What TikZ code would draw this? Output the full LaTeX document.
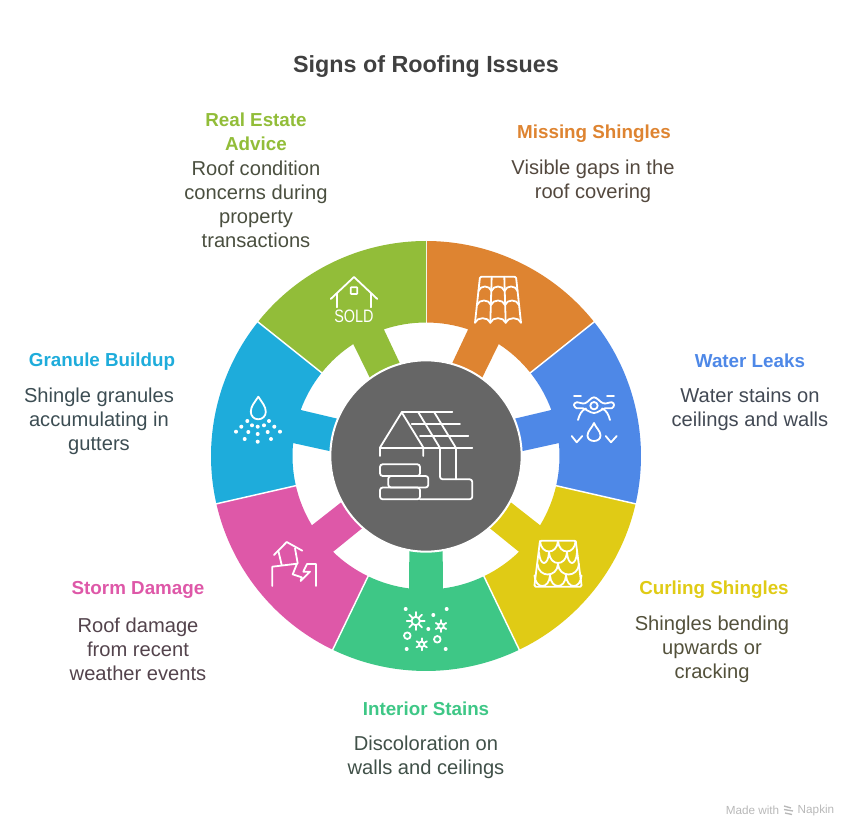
\documentclass[tikz,border=0pt]{standalone}
\usepackage{fontspec}
\usetikzlibrary{calc}
\setmainfont{Liberation Sans}
\definecolor{orangeC}{HTML}{DE8431}
\definecolor{blueC}{HTML}{4E88E7}
\definecolor{yellowC}{HTML}{E0CB15}
\definecolor{greenC}{HTML}{3EC786}
\definecolor{pinkC}{HTML}{DE58A8}
\definecolor{cyanC}{HTML}{1EACDB}
\definecolor{limeC}{HTML}{92BD39}
\definecolor{hubC}{HTML}{666666}
\definecolor{textC}{HTML}{404040}
\tikzset{
  heading/.style={font=\fontsize{14.1}{18}\selectfont\bfseries,align=center,inner sep=0pt},
  body/.style={font=\fontsize{15.1}{18}\selectfont,align=center,inner sep=0pt},
  iconline/.style={draw=white,line width=1.35pt,line cap=round,line join=round},
  icondot/.style={fill=white,draw=none},
  footer/.style={font=\fontsize{8.8}{10}\selectfont,text=black!28,inner sep=0pt}
}

\begin{document}
\begin{tikzpicture}[x=.75pt,y=-.75pt]
  \useasboundingbox (0,0) rectangle (858,838);

  \node at(426,66.5)[font=\fontsize{17.5}{22}\selectfont\bfseries,text=textC,inner sep=0pt](title){Signs of Roofing Issues};

  \begin{scope}[shift={(426,456)},y=.75pt]
    \foreach \ang/\col in {64.29/orangeC,12.86/blueC,-38.57/yellowC,-90/greenC,-141.43/pinkC,167.14/cyanC,115.71/limeC}{
      \fill[\col] (\ang+25.71:215) arc[start angle=\ang+25.71,end angle=\ang-25.71,radius=215]
        -- (\ang-25.71:133.5) arc[start angle=\ang-25.71,end angle=\ang-7.3,radius=133.5]
        -- (\ang-10.2:94) -- (\ang+10.2:94)
        -- (\ang+7.3:133.5) arc[start angle=\ang+7.3,end angle=\ang+25.71,radius=133.5] -- cycle;
      \draw[white,line width=1.1pt] (\ang+25.71:132) -- (\ang+25.71:216);
    }
    \node at(0,0)[circle,fill=hubC,draw=white,line width=1.5pt,minimum size=143.5pt,inner sep=0pt](hub){};
  \end{scope}

  % hub
  \draw[iconline] (380,456) -- (380,447.5) -- (401.7,412.3) -- (423.3,447.5) (423.3,447.5) -- (423.3,456);
  \draw[iconline] (380,448) -- (472.3,448);
  \draw[iconline] (401.7,412.3) -- (452.3,412.3);
  \draw[iconline] (411.7,424) -- (460,424);
  \draw[iconline] (420,436) -- (468.3,436);
  \draw[iconline] (418.3,412.3) -- (440,448);
  \draw[iconline] (434.3,412.3) -- (456,448);
  \draw[iconline,rounded corners=2pt] (440,448) -- (440,479.3) -- (472.3,479.3) -- (472.3,499.3) -- (420,499.3);
  \draw[iconline] (456,448) -- (456,479.3);
  \draw[iconline,rounded corners=2pt] (380,464.3) rectangle (420,476);
  \draw[iconline,rounded corners=2pt] (388.3,476) rectangle (428.3,487.5);
  \draw[iconline,rounded corners=2pt] (380,487.5) rectangle (420,499.3);

  % missing shingles
  \draw[iconline,rounded corners=1pt] (475,322.7) -- (480,276.7) -- (516,276.7) -- (521,322.7);
  \foreach \yy/\xl/\xr in {291/478.4/517.6,305/477/519,322.7/475/521}{
    \foreach \n in {0,1,2}{
      \draw[iconline] ({\xl+\n*(\xr-\xl)/3},\yy) .. controls ({\xl+\n*(\xr-\xl)/3+2},\yy-6) and ({\xl+(\n+1)*(\xr-\xl)/3-2},\yy-6) .. ({\xl+(\n+1)*(\xr-\xl)/3},\yy);
    }
  }
  \draw[iconline] (491.7,276.7) -- (490.3,322.7);
  \draw[iconline] (504.3,276.7) -- (505.7,322.7);

  % water leaks
  \draw[iconline] (574,396.3) -- (581,396.3) (607,396.3) -- (614,396.3);
  \draw[iconline] plot[smooth cycle,tension=.6] coordinates {(574,405) (576.7,402.3) (585,403.3) (594,397.3) (603.3,403.3) (611.7,402.3) (614,405) (611.7,408.3) (605,408.3) (594,413) (583,408.3) (576.7,408.3)};
  \draw[iconline] (594,405.7) circle[radius=3.7];
  \draw[iconline] (586,408.5) .. controls (582,410) and (579.5,414) .. (578,420);
  \draw[iconline] (602,408.5) .. controls (606,410) and (608.5,414) .. (610,420);
  \draw[iconline] (594,423) .. controls (592,428) and (587.5,431) .. (587.5,435.5) .. controls (587.5,439) and (590.5,441) .. (594,441) .. controls (597.5,441) and (600.5,439) .. (600.5,435.5) .. controls (600.5,431) and (596,428) .. (594,423) -- cycle;
  \draw[iconline] (571.7,436) -- (576.7,442.3) -- (582.3,436);
  \draw[iconline] (605.7,436) -- (611,442.3) -- (616.7,436);

  % curling shingles
  \draw[iconline,rounded corners=1pt] (534.3,586.7) -- (540,540.7) -- (575.7,540.7) -- (581.7,586.7) -- cycle;
  \foreach \xa/\xb/\yy in {540/558/541,558/575.7/541,549/567/552.5,539/549/552.5,567/577/552.5,537.5/558/564,558/579/564,534.5/550/575.5,550/566/575.5,566/581.5/575.5}{
    \draw[iconline] (\xa,\yy) .. controls (\xa+1,\yy+14) and (\xb-1,\yy+14) .. (\xb,\yy);
  }

  % interior stains
  \draw[iconline] (415.7,621) circle[radius=4.2];
  \foreach \rr in {0,45,...,315}{
    \draw[iconline] ($(415.7,621)+(\rr:4.2)$) -- ($(415.7,621)+(\rr:9)$);
  }
  \foreach \cx/\cy in {421.7/644.3,441/626}{
    \draw[iconline] (\cx,\cy) circle[radius=2.7];
    \foreach \rr in {30,90,...,330}{
      \draw[iconline] ($(\cx,\cy)+(\rr:2.7)$) -- ($(\cx,\cy)+(\rr:6)$);
    }
  }
  \draw[iconline] (407.3,635.7) circle[radius=3.3];
  \draw[iconline] (437.3,639.3) circle[radius=3.3];
  \foreach \cx/\cy in {405.7/609,406.7/649,428.3/629,433.3/615,446.7/609,445.7/649}{
    \fill[icondot] (\cx,\cy) circle[radius=2];
  }

  % storm damage
  \draw[iconline] (274,555) -- (286.7,542) -- (302.3,550.7);
  \draw[iconline] (278.3,550.7) -- (281.7,565);
  \draw[iconline] (295,548.3) -- (297.7,563.3);
  \draw[iconline] (272.3,586) -- (272.3,566.7) -- (297,563.7) -- (292.7,574.3) -- (301.7,577.3) -- (300.7,581) -- (310,571.7) -- (303.3,571.7) -- (307,564) -- (316,564) -- (316,586);

  % granule buildup
  \draw[iconline] (258.3,396.7) .. controls (255,402) and (250.8,406) .. (250.8,411.8) .. controls (250.8,416) and (254,419.3) .. (258.3,419.3) .. controls (262.6,419.3) and (265.8,416) .. (265.8,411.8) .. controls (265.8,406) and (261.6,402) .. (258.3,396.7) -- cycle;
  \foreach \cx/\cy in {247.3/421,252/425.3,257.7/426.7,264/425.3,269/421,241.3/426.7,274.3/426.7,236/431.7,248.3/432,257.7/434,267.7/432,280/431.7,244.7/439,271/439,257.7/441.7}{
    \fill[icondot] (\cx,\cy) circle[radius=2];
  }

  % real estate advice
  \draw[iconline] (330.7,299) -- (354,277) -- (377.3,299);
  \draw[iconline] (337,293.3) -- (337,307.3);
  \draw[iconline] (371,293.3) -- (371,307.3);
  \draw[iconline,rounded corners=.5pt] (350.7,287.3) rectangle (357.3,294);
  \node at(354,316.5)[font=\fontsize{13.5}{13.5}\selectfont,text=white,inner sep=0pt,xscale=.8](sold){SOLD};

  % labels
  \node at(256,132)[heading,text=limeC](advicehead){Real Estate\\Advice};
  \node at(256,204)[body,text=limeC!12!textC](advicebody){Roof condition\\concerns during\\property\\transactions};
  \node at(594,133.5)[heading,text=orangeC](missinghead){Missing Shingles};
  \node at(593,181.5)[body,text=orangeC!12!textC](missingbody){Visible gaps in the\\roof covering};
  \node at(750,361)[heading,text=blueC](leakshead){Water Leaks};
  \node at(750,409.5)[body,text=blueC!12!textC](leaksbody){Water stains on\\ceilings and walls};
  \node at(714,589.5)[heading,text=yellowC](curlinghead){Curling Shingles};
  \node at(712,649.5)[body,text=yellowC!12!textC](curlingbody){Shingles bending\\upwards or\\cracking};
  \node at(426,709)[heading,text=greenC](stainshead){Interior Stains};
  \node at(426,757.5)[body,text=greenC!12!textC](stainsbody){Discoloration on\\walls and ceilings};
  \node at(138,589.5)[heading,text=pinkC](stormhead){Storm Damage};
  \node at(138,649.5)[body,text=pinkC!12!textC](stormbody){Roof damage\\from recent\\weather events};
  \node at(102,361.5)[heading,text=cyanC](granulehead){Granule Buildup};
  \node at(99,421)[body,text=cyanC!12!textC](granulebody){Shingle granules\\accumulating in\\gutters};

  % footer
  \node at(752.5,810.5)[footer](madewith){Made with};
  \node at(816,810.5)[footer](napkin){Napkin};
  \draw[black!28,line width=1pt] (784,806) -- (791,808) (784,809.5) -- (793,811) (785,813) -- (792,814.5);
\end{tikzpicture}
\end{document}
